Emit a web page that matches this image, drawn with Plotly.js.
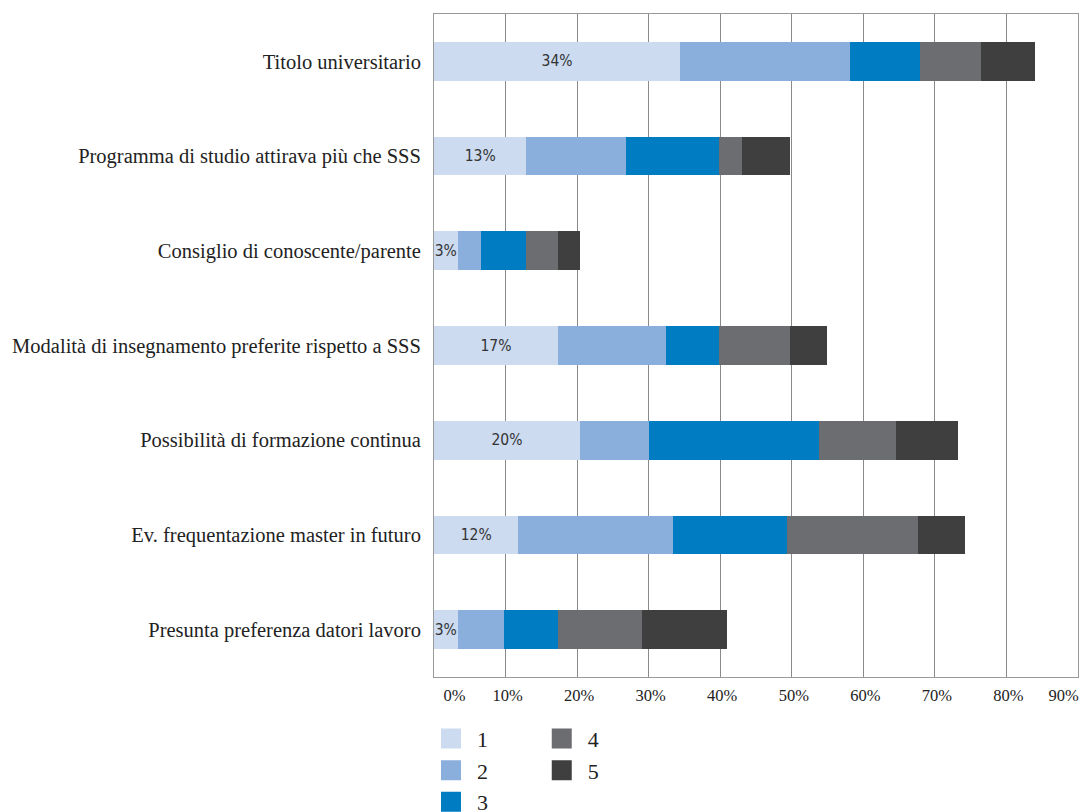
<!DOCTYPE html>
<html>
<head>
<meta charset="utf-8">
<script src="https://cdn.plot.ly/plotly-3.0.1.min.js"></script>
<style>
html,body{margin:0;padding:0;background:#fff;}
#chart{width:1083px;height:812px;}
</style>
</head>
<body>
<div id="chart"></div>
<script>
const categories = [
  "Titolo universitario",
  "Programma di studio attirava più che SSS",
  "Consiglio di conoscente/parente",
  "Modalità di insegnamento preferite rispetto a SSS",
  "Possibilità di formazione continua",
  "Ev. frequentazione master in futuro",
  "Presunta preferenza datori lavoro"
];
const seriesNames = ["1", "2", "3", "4", "5"];
const s1 = [34.4, 12.9, 3.3, 17.3, 20.4, 11.8, 3.3];
const s2 = [23.8, 13.9, 3.2, 15.1, 9.7, 21.6, 6.5];
const s3 = [9.7, 13.0, 6.3, 7.4, 23.7, 16.0, 7.5];
const s4 = [8.6, 3.3, 4.5, 9.9, 10.8, 18.2, 11.7];
const s5 = [7.5, 6.6, 3.1, 5.2, 8.6, 6.6, 11.9];
const s1Labels = ["34%", "13%", "3%", "17%", "20%", "12%", "3%"];
const colors = ["#CCDBF0", "#8AAFDC", "#007CC3", "#6C6D70", "#3F3F3F"];
const tickVals = [0, 10, 20, 30, 40, 50, 60, 70, 80, 90];
const tickText = ["\u00a0\u00a0\u00a0\u00a0\u00a0\u00a0\u00a0\u00a0\u00a00%", "10%", "20%", "30%", "40%", "50%", "60%", "70%", "80%", "90%\u00a0\u00a0\u00a0\u00a0\u00a0\u00a0\u00a0\u00a0"];

const allSeries = [s1, s2, s3, s4, s5];
const traces = [];
allSeries.forEach((vals, i) => {
  const t = {
    type: "bar",
    orientation: "h",
    y: categories,
    x: vals,
    name: seriesNames[i],
    marker: {color: colors[i], line: {width: 0}},
    showlegend: false,
    hoverinfo: "x+y"
  };
  if (i === 0) {
    t.text = s1Labels;
    t.texttemplate = "%{text}";
    t.textposition = "inside";
    t.insidetextanchor = "middle";
    t.constraintext = "none";
    t.textangle = 0;
    t.textfont = {family: "'Liberation Sans Narrow', 'Arial Narrow', 'DejaVu Sans Condensed', 'Roboto Condensed', sans-serif", size: 15.5, color: "#333333"};
    t.cliponaxis = false;
  }
  traces.push(t);
});
// legend-only marker traces
seriesNames.forEach((n, i) => {
  traces.push({
    type: "scatter",
    mode: "markers",
    x: [null],
    y: [null],
    name: n,
    marker: {symbol: "square", size: 16, color: colors[i], line: {width: 4, color: colors[i]}},
    legend: i < 3 ? "legend" : "legend2",
    showlegend: true,
    hoverinfo: "skip"
  });
});

const legendFont = {family: "'Liberation Serif', 'Times New Roman', serif", size: 22, color: "#222"};
const layout = {
  width: 1083,
  height: 812,
  margin: {l: 434, r: 5, t: 14, b: 135, pad: 0, autoexpand: false},
  paper_bgcolor: "#ffffff",
  plot_bgcolor: "#ffffff",
  barmode: "stack",
  bargap: 0.59,
  font: {family: "'Liberation Serif', 'Times New Roman', serif", color: "#222"},
  xaxis: {
    range: [0, 90],
    tickvals: tickVals,
    ticktext: tickText,
    showgrid: true,
    gridcolor: "#8a8a8a",
    gridwidth: 1,
    showline: true,
    linecolor: "#999999",
    linewidth: 1,
    mirror: true,
    zeroline: false,
    ticks: "outside",
    ticklen: 3,
    tickcolor: "rgba(0,0,0,0)",
    ticklabelshift: 2,
    ticklabeloverflow: "allow",
    tickfont: {family: "'Liberation Serif', 'Times New Roman', serif", size: 16.5, color: "#222"},
    fixedrange: true
  },
  yaxis: {
    type: "category",
    autorange: "reversed",
    showgrid: false,
    showline: true,
    linecolor: "#999999",
    linewidth: 1,
    mirror: true,
    zeroline: false,
    ticks: "outside",
    ticklen: 8,
    tickcolor: "rgba(0,0,0,0)",
    tickfont: {family: "'Liberation Serif', 'Times New Roman', serif", size: 20.5, color: "#222"},
    fixedrange: true
  },
  legend: {
    x: -0.014, xanchor: "left",
    y: -0.0615, yanchor: "top",
    orientation: "v",
    traceorder: "normal",
    itemwidth: 42,
    font: legendFont,
    bgcolor: "rgba(0,0,0,0)",
    tracegroupgap: 0
  },
  legend2: {
    x: 0.158, xanchor: "left",
    y: -0.0615, yanchor: "top",
    orientation: "v",
    traceorder: "normal",
    itemwidth: 42,
    font: legendFont,
    bgcolor: "rgba(0,0,0,0)",
    tracegroupgap: 0
  },
  showlegend: true
};

Plotly.newPlot("chart", traces, layout, {displayModeBar: false, staticPlot: true});
</script>
</body>
</html>
